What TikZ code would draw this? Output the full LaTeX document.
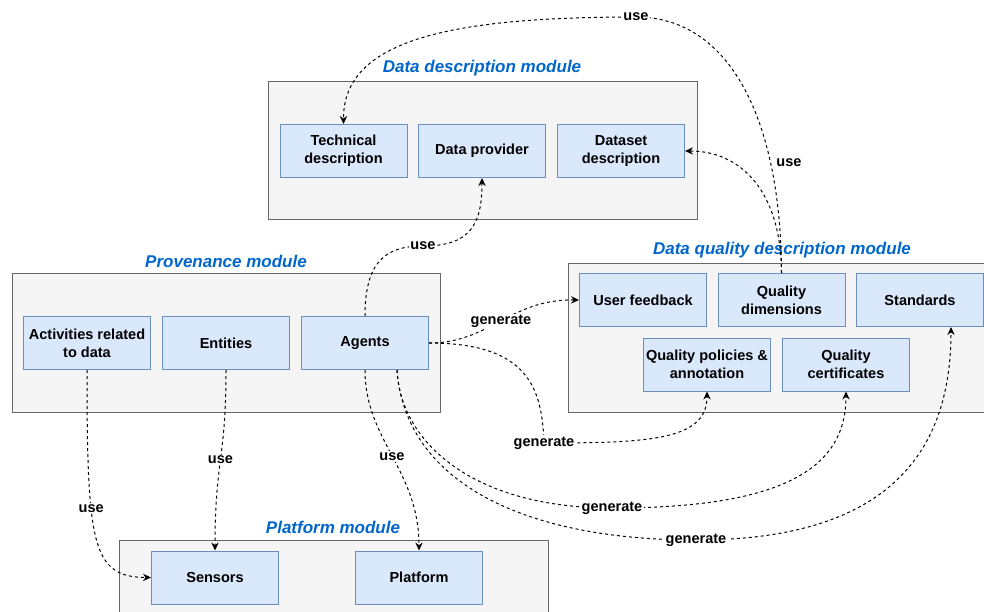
\documentclass[tikz,border=0pt]{standalone}
\usepackage{fontspec}
\setmainfont{Liberation Sans}
\usetikzlibrary{arrows.meta,calc}
\definecolor{contfill}{HTML}{F5F5F5}
\definecolor{contdraw}{HTML}{666666}
\definecolor{boxfill}{HTML}{DAE8FC}
\definecolor{boxdraw}{HTML}{6C8EBF}
\definecolor{titleblue}{HTML}{0066CC}
\begin{document}
\begin{tikzpicture}[x=0.75pt,y=-0.75pt,
  container/.style={draw=contdraw, fill=contfill, line width=0.75pt, inner sep=0pt},
  box/.style={draw=boxdraw, fill=boxfill, line width=0.75pt, minimum width=95.25pt, minimum height=39.75pt, inner sep=0pt, align=center, font=\bfseries\fontsize{10.9}{13.5}\selectfont},
  title/.style={text=titleblue, font=\bfseries\itshape\fontsize{12.75}{15}\selectfont, inner sep=0pt},
  lbl/.style={fill=white, inner sep=1pt, font=\bfseries\fontsize{10.9}{13}\selectfont},
  conn/.style={draw=black, line width=0.75pt, dash pattern=on 2.25pt off 2.25pt, -{Stealth[length=6pt,width=5.5pt]}}
]
\useasboundingbox (0,0) rectangle (984,611);

% containers
\node[container, minimum width=321.75pt, minimum height=103.5pt] (ddc) at (482.5,150) {};
\node[container, minimum width=321pt, minimum height=104.25pt] (pvc) at (226,342.5) {};
\node[container, minimum width=316.5pt, minimum height=111.75pt] (dqc) at (779,337.5) {};
\node[container, minimum width=321.75pt, minimum height=63.75pt] (plc) at (333.5,582.5) {};

% titles
\node[title] (t1) at (482,68) {Data description module};
\node[title] (t2) at (226,261) {Provenance module};
\node[title] (t3) at (782,250) {Data quality description module};
\node[title] (t4) at (333,527) {Platform module};

% data description boxes
\node[box] (tech) at (343.5,151) {Technical\\description};
\node[box] (dprov) at (482,151) {Data provider};
\node[box] (dset) at (621,151) {Dataset\\description};

% provenance boxes
\node[box] (act) at (87,343) {Activities related\\to data};
\node[box] (ent) at (226,343) {Entities};
\node[box] (agt) at (365,343) {Agents};

% data quality boxes
\node[box] (uf) at (643,300) {User feedback};
\node[box] (qd) at (781.5,300) {Quality\\dimensions};
\node[box] (std) at (920,300) {Standards};
\node[box] (qpa) at (707,364.5) {Quality policies \&\\annotation};
\node[box] (qc) at (846,364.5) {Quality\\certificates};

% platform boxes
\node[box] (sens) at (215,577.5) {Sensors};
\node[box] (platf) at (419,577.5) {Platform};

\coordinate (agtb) at ([xshift=24pt]agt.south);
\coordinate (stdb) at ([xshift=23.25pt]std.south);

% connectors
\draw[conn] (qd.north) .. controls (781,120) and (730,17) .. (636,17) node[lbl] (l1) {use}
  .. controls (450,17) and (343,40) .. (tech.north);
\draw[conn] (qd.north) .. controls (781,190) and (740,151) .. (dset.east);
\node[lbl, fill=none] (l2) at (789,163) {use};

\draw[conn] (agt.north) .. controls (365,262) and (385,246) .. (423,246) node[lbl] (l3) {use}
  .. controls (470,246) and (482,225) .. (dprov.south);

\draw[conn] (agt.east) .. controls (490,343) and (510,299) .. (uf.west) node[lbl, midway] (l4) {generate};

\draw[conn] (agt.east) .. controls (530,343) and (542,390) .. (544,443) node[lbl] (l5) {generate}
  .. controls (650,443) and (707,440) .. (qpa.south);

\draw[conn] (agtb) .. controls (400,440) and (470,508) .. (612,508) node[lbl] (l6) {generate}
  .. controls (780,508) and (846,470) .. (qc.south);

\draw[conn] (agtb) .. controls (405,480) and (520,540) .. (696,540) node[lbl] (l7) {generate}
  .. controls (880,540) and (951,460) .. (stdb);

\draw[conn] (agt.south) .. controls (365,440) and (419,470) .. (platf.north) node[lbl, midway] (l8) {use};

\draw[conn] (act.south) .. controls (87,545) and (92,577) .. (sens.west) node[lbl, pos=0.36] (l9) {use};

\draw[conn] (ent.south) .. controls (226,460) and (215,460) .. (sens.north) node[lbl, midway] (l10) {use};
\end{tikzpicture}
\end{document}
